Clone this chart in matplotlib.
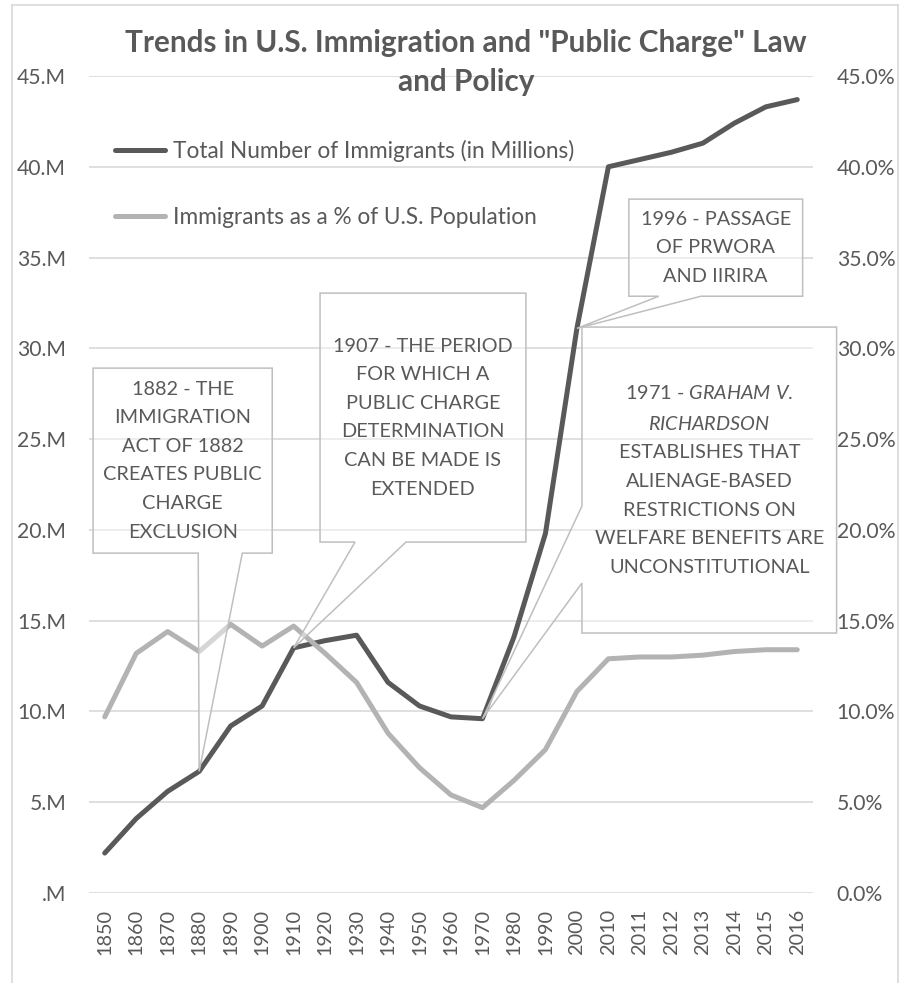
"""
Trends in U.S. Immigration and "Public Charge" Law and Policy
"""
import numpy as np
import matplotlib
matplotlib.use('Agg')
import matplotlib.pyplot as plt
from matplotlib.lines import Line2D
from matplotlib.patches import Polygon
from matplotlib.ticker import FuncFormatter

plt.rcParams['font.family'] = ['Lato', 'DejaVu Sans']
plt.rcParams['mathtext.fontset'] = 'custom'
plt.rcParams['mathtext.rm'] = 'Lato'
plt.rcParams['mathtext.it'] = 'Lato:italic'

TXT = '#595959'
GRID = '#D9D9D9'
EDGE = '#BFBFBF'

# ---- data ----
years = ['1850', '1860', '1870', '1880', '1890', '1900', '1910', '1920', '1930',
         '1940', '1950', '1960', '1970', '1980', '1990', '2000', '2010', '2011',
         '2012', '2013', '2014', '2015', '2016']
total_millions = [2.2, 4.1, 5.6, 6.7, 9.2, 10.3, 13.5, 13.9, 14.2,
                  11.6, 10.3, 9.7, 9.6, 14.1, 19.8, 31.1, 40.0, 40.4,
                  40.8, 41.3, 42.4, 43.3, 43.7]
pct_of_pop = [9.7, 13.2, 14.4, 13.3, 14.8, 13.6, 14.7, 13.2, 11.6,
              8.8, 6.9, 5.4, 4.7, 6.2, 7.9, 11.1, 12.9, 13.0,
              13.0, 13.1, 13.3, 13.4, 13.4]
labels = ['Total Number of Immigrants (in Millions)',
          'Immigrants as a % of U.S. Population']
title = 'Trends in U.S. Immigration and "Public Charge" Law\nand Policy'

# callouts: text, anchor year (points at total line), box (x0, x1, y0, y1), pointer base
callouts = [
    ('1882 - THE\nIMMIGRATION\nACT OF 1882\nCREATES PUBLIC\nCHARGE\nEXCLUSION',
     '1880', (-0.37, 5.32, 18.72, 28.91), ('bottom', 2.97, 4.37)),
    ('1907 - THE PERIOD\nFOR WHICH A\nPUBLIC CHARGE\nDETERMINATION\nCAN BE MADE IS\nEXTENDED',
     '1910', (6.84, 13.38, 19.33, 33.04), ('bottom', 7.95, 9.57)),
    ('1996 - PASSAGE\nOF PRWORA\nAND IIRIRA',
     '2000', (16.65, 22.17, 32.87, 38.22), ('bottom', 17.6, 18.94)),
    ('1971 - $\\mathit{GRAHAM\\ V.}$\n$\\mathit{RICHARDSON}$\nESTABLISHES THAT\nALIENAGE-BASED\n'
     'RESTRICTIONS ON\nWELFARE BENEFITS ARE\nUNCONSTITUTIONAL',
     '1970', (15.16, 23.25, 14.32, 31.17), ('left', 17.07, 21.31)),
]

W, H = 900, 983
fig = plt.figure(figsize=(W / 100, H / 100), dpi=100)
ax = fig.add_axes([89 / W, 1 - 893 / H, (813 - 89) / W, (893 - 76) / H])
ax2 = ax.twinx()

x = np.arange(len(years))
ax.plot(x, total_millions, color='#595959', lw=3.6, solid_joinstyle='round',
        solid_capstyle='round', label=labels[0], zorder=3)
ax2.plot(x, pct_of_pop, color='#B3B3B3', lw=3.6, solid_joinstyle='round',
         solid_capstyle='round', label=labels[1], zorder=3)

for a in (ax, ax2):
    a.set_xlim(-0.5, len(years) - 0.5)
    a.set_ylim(0, 45)
    a.set_yticks(np.arange(0, 46, 5))
    for s in a.spines.values():
        s.set_visible(False)

ax.yaxis.grid(True, color=GRID, lw=1.2)
ax.set_axisbelow(True)
ax.yaxis.set_major_formatter(FuncFormatter(lambda v, p: f'{v:.0f}.M' if v else '.M'))
ax2.yaxis.set_major_formatter(FuncFormatter(lambda v, p: f'{v:.1f}%'))
ax.tick_params(axis='y', length=0, pad=16.5, labelsize=15.2, labelcolor=TXT)
ax2.tick_params(axis='y', length=0, pad=17, labelsize=15.2, labelcolor=TXT)
ax.set_xticks(x)
ax.set_xticklabels(years, rotation=90)
ax.tick_params(axis='x', length=0, pad=11.5, labelsize=14.3, labelcolor=TXT)

# legend
h1 = Line2D([], [], color='#595959', lw=3.6, solid_capstyle='round')
h2 = Line2D([], [], color='#B3B3B3', lw=3.6, solid_capstyle='round')
fig.legend([h1, h2], labels, loc='upper left', bbox_to_anchor=(115 / W, 1 - 140 / H),
           frameon=False, fontsize=16.3, labelcolor=TXT, handlelength=2.2,
           handletextpad=0.35, labelspacing=2.0, borderpad=0, borderaxespad=0)

# callouts
for text, yr, (x0, x1, y0, y1), (side, b0, b1) in callouts:
    i = years.index(yr)
    tip = (i, total_millions[i])
    if side == 'bottom':
        pts = [(x0, y1), (x1, y1), (x1, y0), (b1, y0), tip, (b0, y0), (x0, y0)]
    else:
        pts = [(x0, y0), (x1, y0), (x1, y1), (x0, y1), (x0, b1), tip, (x0, b0)]
    ax2.add_patch(Polygon(pts, closed=True, facecolor=(1, 1, 1, 0.45),
                          edgecolor=EDGE, lw=1.1, clip_on=False, zorder=5))
    ax2.text((x0 + x1) / 2, (y0 + y1) / 2, text, ha='center', va='center',
             fontsize=14.3, color=TXT, linespacing=1.83, zorder=6, clip_on=False)

fig.text(0.518, 1 - 29 / H, title, ha='center', va='top', fontsize=21.4,
         fontweight='bold', color=TXT, linespacing=1.5)

# outer frame
for xs, ys in (([12, 12], [5, H]), ([898, 898], [5, H]), ([12, 898], [5, 5])):
    fig.add_artist(Line2D([v / W for v in xs], [1 - v / H for v in ys],
                          color=GRID, lw=1.2, transform=fig.transFigure))

fig.savefig('out.png', dpi=100)
